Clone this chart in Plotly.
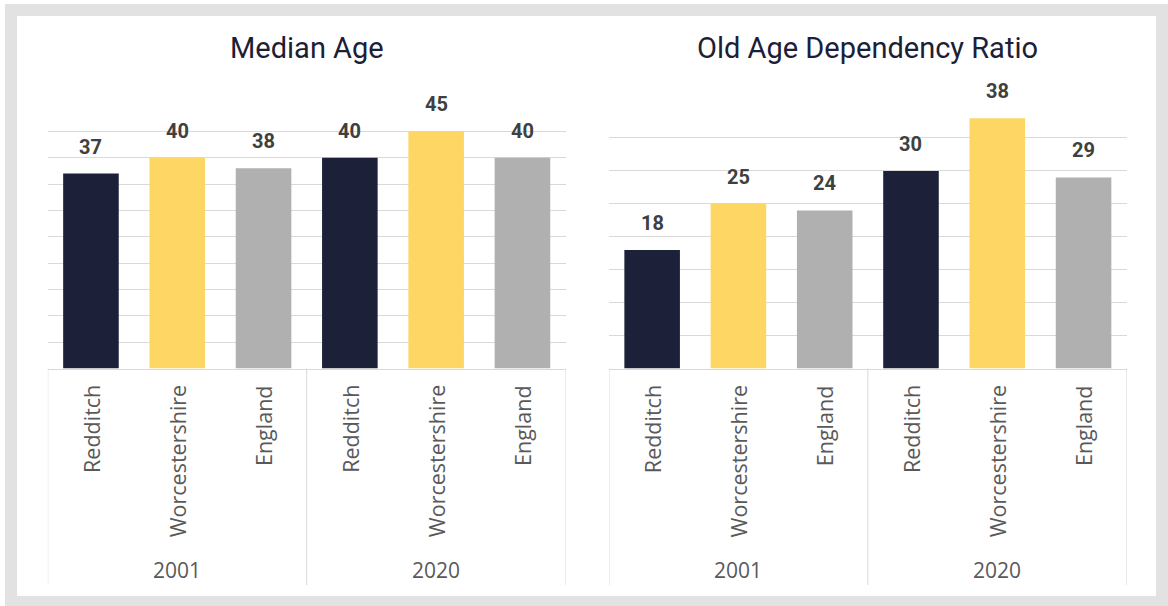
import plotly.graph_objects as go

# Chart data
years = ["2001", "2020"]
areas = ["Redditch", "Worcestershire", "England"]
median_age_2001 = [37, 40, 38]
median_age_2020 = [40, 45, 40]
dependency_2001 = [18, 25, 24]
dependency_2020 = [30, 38, 29]
panel_titles = ["Median Age", "Old Age Dependency Ratio"]
area_colors = ["#1c2038", "#fdd663", "#b0b0b0"]

W, H = 1168, 606

def px_x(p):
    return p / W

def px_y(p):
    return 1 - p / H

# one category per (year, area) pair, in drawing order
cats = [f"{y} {a}" for y in years for a in areas]
panels = [
    (median_age_2001 + median_age_2020, 50, (47.8, 565.6)),
    (dependency_2001 + dependency_2020, 40, (609.0, 1126.7)),
]

fig = go.Figure()
ann = []
shapes = []
grid = "#d9d9d9"
plot_top, plot_bottom = 105.0, 368.5

for i, (vals, ymax, (x0, x1)) in enumerate(panels):
    xa = "x" if i == 0 else "x2"
    ya = "y" if i == 0 else "y2"
    fig.add_trace(go.Bar(
        x=cats, y=vals, xaxis=xa, yaxis=ya,
        marker=dict(color=area_colors * 2, line=dict(width=0)),
        hoverinfo="skip", showlegend=False,
    ))
    lay_x = dict(
        domain=[px_x(x0), px_x(x1)], type="category", categoryorder="array",
        categoryarray=cats, range=[-0.5, 5.5], showticklabels=False,
        showgrid=False, showline=True, linecolor=grid, linewidth=1,
        ticks="", zeroline=False, fixedrange=True,
    )
    lay_y = dict(
        domain=[px_y(plot_bottom), px_y(plot_top)], range=[0, ymax], dtick=5,
        showgrid=True, gridcolor=grid, gridwidth=1, showticklabels=False,
        zeroline=False, showline=False, ticks="", fixedrange=True,
    )
    if i == 0:
        fig.update_layout(xaxis=lay_x, yaxis=lay_y)
    else:
        lay_x["anchor"] = "y2"
        lay_y["anchor"] = "x2"
        fig.update_layout(xaxis2=lay_x, yaxis2=lay_y)

    xref = xa
    yref = ya
    # value labels above bars
    for c, v in zip(cats, vals):
        ann.append(dict(
            x=c, y=v, xref=xref, yref=yref, text=str(v), showarrow=False,
            yanchor="bottom", xanchor="center", yshift=13,
            font=dict(family="Roboto", size=20, color="#404040", weight="bold"),
        ))
    # rotated area names
    for c, a in zip(cats, areas * 2):
        ann.append(dict(
            x=c, y=px_y(383), xref=xref, yref="paper", text=a, showarrow=False,
            textangle=-90, yanchor="top", xanchor="center",
            font=dict(family="Open Sans", size=21.5, color="#595959"),
        ))
    # year group labels
    for k, yr in enumerate(years):
        ann.append(dict(
            x=cats[k * 3 + 1], y=px_y(570), xref=xref, yref="paper", text=yr,
            showarrow=False, yanchor="middle", xanchor="center",
            font=dict(family="Open Sans", size=21, color="#595959"),
        ))
    # group boxes of the category axis
    for xb in (-0.5, 2.5, 5.5):
        shapes.append(dict(
            type="line", xref=xref, yref="paper", x0=xb, x1=xb,
            y0=px_y(585), y1=px_y(plot_bottom),
            line=dict(color=grid, width=1),
        ))
    # panel title
    ann.append(dict(
        x=px_x((x0 + x1) / 2), y=px_y(48), xref="paper", yref="paper",
        text=panel_titles[i], showarrow=False, yanchor="middle",
        xanchor="center",
        font=dict(family="Roboto", size=29, color="#1b2036"),
    ))

# outer frame
shapes.append(dict(
    type="rect", xref="paper", yref="paper",
    x0=px_x(11), x1=px_x(1162), y0=px_y(602), y1=px_y(10),
    line=dict(color="#e2e2e2", width=12), fillcolor="rgba(0,0,0,0)",
))

fig.update_layout(
    width=W, height=H, margin=dict(l=0, r=0, t=0, b=0),
    paper_bgcolor="white", plot_bgcolor="white",
    bargap=0.356, annotations=ann, shapes=shapes,
)

fig.write_html("out.html", config={"displayModeBar": False})
